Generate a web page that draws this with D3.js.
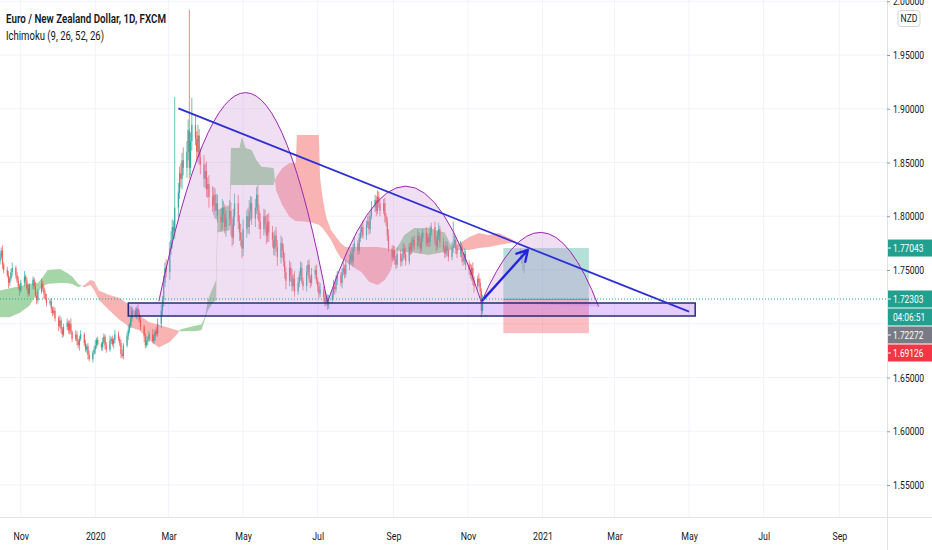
<!DOCTYPE html>
<html>
<head>
<meta charset="utf-8">
<script src="https://cdn.jsdelivr.net/npm/d3@7"></script>
<style>
html, body { margin: 0; padding: 0; background: #fff; overflow: hidden; }
svg { display: block; font-family: Roboto, "Noto Sans", sans-serif; }
</style>
</head>
<body>
<svg id="chart" width="932" height="550"></svg>
<script>
// ---- candles: daily closes from 2019-10-15 (weekdays), open = previous close
var firstDay = "2019-10-15";
var firstOpen = 1.758;
var closes = [
  1.762, 1.768, 1.755, 1.750, 1.745, 1.738, 1.742, 1.748, 1.752, 1.745,
  1.740, 1.735, 1.731, 1.738, 1.744, 1.740, 1.733, 1.728, 1.736, 1.741,
  1.735, 1.726, 1.722, 1.730, 1.737, 1.733, 1.728, 1.724, 1.719, 1.721,
  1.714, 1.710, 1.712, 1.705, 1.698, 1.703, 1.695, 1.690, 1.697, 1.701,
  1.694, 1.700, 1.692, 1.686, 1.690, 1.684, 1.680, 1.686, 1.690, 1.682,
  1.676, 1.679, 1.671, 1.667, 1.673, 1.676, 1.680, 1.685, 1.681, 1.678,
  1.683, 1.688, 1.680, 1.676, 1.684, 1.686, 1.681, 1.685, 1.690, 1.686,
  1.682, 1.672, 1.670, 1.680, 1.689, 1.694, 1.698, 1.705, 1.712, 1.708,
  1.714, 1.710, 1.703, 1.697, 1.688, 1.680, 1.684, 1.686, 1.690, 1.684,
  1.688, 1.693, 1.691, 1.700, 1.712, 1.722, 1.738, 1.752, 1.748, 1.770,
  1.778, 1.790, 1.786, 1.808, 1.822, 1.840, 1.835, 1.852, 1.845, 1.860,
  1.880, 1.845, 1.870, 1.885, 1.872, 1.860, 1.875, 1.855, 1.848, 1.835,
  1.842, 1.825, 1.830, 1.818, 1.810, 1.820, 1.805, 1.812, 1.800, 1.795,
  1.808, 1.802, 1.790, 1.798, 1.805, 1.792, 1.780, 1.800, 1.812, 1.795,
  1.785, 1.778, 1.770, 1.788, 1.800, 1.790, 1.805, 1.812, 1.798, 1.808,
  1.820, 1.805, 1.795, 1.788, 1.800, 1.792, 1.782, 1.795, 1.785, 1.778,
  1.770, 1.782, 1.772, 1.762, 1.775, 1.768, 1.758, 1.748, 1.740, 1.752,
  1.745, 1.735, 1.742, 1.730, 1.738, 1.745, 1.752, 1.740, 1.735, 1.748,
  1.755, 1.742, 1.738, 1.746, 1.750, 1.740, 1.735, 1.728, 1.732, 1.725,
  1.720, 1.724, 1.718, 1.722, 1.728, 1.735, 1.732, 1.740, 1.745, 1.738,
  1.748, 1.752, 1.746, 1.755, 1.760, 1.765, 1.758, 1.770, 1.775, 1.768,
  1.780, 1.785, 1.790, 1.782, 1.792, 1.795, 1.788, 1.800, 1.808, 1.815,
  1.805, 1.818, 1.812, 1.805, 1.812, 1.800, 1.795, 1.782, 1.770, 1.762,
  1.768, 1.760, 1.755, 1.765, 1.758, 1.762, 1.770, 1.765, 1.758, 1.772,
  1.768, 1.775, 1.778, 1.772, 1.782, 1.776, 1.770, 1.780, 1.785, 1.775,
  1.780, 1.776, 1.785, 1.790, 1.778, 1.772, 1.782, 1.788, 1.776, 1.770,
  1.765, 1.772, 1.768, 1.762, 1.770, 1.774, 1.778, 1.770, 1.765, 1.772,
  1.762, 1.758, 1.765, 1.755, 1.750, 1.745, 1.752, 1.740, 1.735, 1.742,
  1.738, 1.730, 1.712, 1.72303
];
// wick lengths above / below the body, in 0.001
var wickUp = [
  4,3,5,2,3,4,2,3,5,2, 3,4,2,3,5,2,3,4,2,3, 2,4,3,2,5,3,2,3,4,2, 3,2,4,3,2,5,3,2,3,4,
  2,3,5,2,4,3,2,3,4,2, 3,2,3,4,2,3,5,2,3,2, 4,3,2,3,5,2,3,2,4,3, 2,3,4,2,3,5,3,2,4,3,
  2,4,3,5,2,3,4,2,3,5, 3,2,4,5,6,4,7,5,8,6, 8,7,6,103,9,6,9,7,12,10, 10,112,8,25,9,7,10,6,8,9,
  7,9,6,8,10,7,6,9,8,7, 8,6,9,7,10,8,6,7,9,8, 6,8,7,9,6,8,10,7,6,8, 7,9,6,8,7,6,9,7,8,6,
  7,5,8,6,7,5,6,8,5,7, 5,6,4,7,5,4,6,5,3,6, 4,5,3,6,4,5,3,4,6,3, 5,4,3,5,4,6,3,5,4,3,
  4,6,3,5,4,3,6,4,5,3, 4,5,3,6,4,5,7,4,6,5, 4,6,5,3,4,5,3,4,6,3, 5,4,3,6,4,3,5,4,6,3,
  4,5,3,4,6,3,5,4,3,5, 4,3,6,4,5,3,4,6,3,4, 3,5,4,3,6,21,5,3,4,5, 3,4,5,3,4,6,3,5,4,3,
  5,4,3,4
];
var wickDn = [
  3,2,4,3,2,5,3,2,4,3, 2,3,5,2,3,4,2,3,2,4, 3,2,4,3,2,3,5,2,3,2, 4,3,2,3,5,2,4,3,2,3,
  3,4,2,3,2,4,3,5,2,3, 2,3,4,2,3,2,4,3,2,3, 3,2,4,3,2,3,2,4,3,2, 3,4,2,3,2,4,3,2,3,2,
  4,3,2,3,5,3,2,4,3,2, 3,4,2,3,4,5,6,4,5,7, 6,8,5,7,9,6,8,10,7,9, 8,10,7,9,6,8,10,7,9,8,
  9,7,8,10,6,9,7,8,6,9, 7,8,6,9,7,10,8,6,9,7, 8,6,9,7,8,6,7,9,6,8, 6,8,7,9,6,7,8,6,9,7,
  6,7,5,8,6,7,5,6,8,5, 6,5,4,5,3,4,5,3,4,5, 3,4,5,3,4,3,5,4,3,5, 4,3,5,4,3,4,5,3,4,3,
  5,3,4,3,5,4,3,5,3,4, 3,4,5,3,4,3,5,4,3,4, 5,3,4,5,3,6,4,5,3,4, 3,5,4,3,5,4,3,5,4,3,
  4,3,5,4,3,4,5,3,4,3, 3,5,4,3,4,5,3,4,5,3, 4,3,5,4,3,4,3,5,4,3, 5,4,3,5,4,3,5,4,6,5,
  4,6,6,3
];

// ---- Ichimoku cloud (leading spans, already shifted forward)
var cloudDates = [
  "2019-10-15","2019-10-23","2019-10-31","2019-11-08","2019-11-15","2019-11-19","2019-11-23",
  "2019-12-03","2019-12-08","2019-12-13","2019-12-18","2019-12-23","2019-12-28","2019-12-31",
  "2020-01-04","2020-01-12","2020-01-21","2020-01-29","2020-02-06","2020-02-14","2020-02-22",
  "2020-03-02","2020-03-08","2020-03-11","2020-03-22","2020-03-28","2020-03-31","2020-04-02",
  "2020-04-06","2020-04-09","2020-04-10","2020-04-20","2020-04-21","2020-04-28","2020-04-30",
  "2020-05-03","2020-05-08","2020-05-12","2020-05-16","2020-05-26","2020-05-28","2020-06-02",
  "2020-06-08","2020-06-13","2020-06-14","2020-06-24","2020-07-02","2020-07-03","2020-07-05",
  "2020-07-08","2020-07-12","2020-07-16","2020-07-20","2020-07-24","2020-07-31","2020-08-06",
  "2020-08-12","2020-08-19","2020-08-25","2020-08-30","2020-09-03","2020-09-10","2020-09-18",
  "2020-09-30","2020-10-13","2020-10-18","2020-10-23","2020-11-02","2020-11-10","2020-11-18",
  "2020-11-26","2020-12-05","2020-12-10"
];
var spanA = [
  1.731, 1.733, 1.735, 1.737, 1.738, 1.7435, 1.750,
  1.751, 1.748, 1.744, 1.737, 1.734, 1.736, 1.7314,
  1.722, 1.713, 1.7035, 1.697, 1.694, 1.685, 1.678,
  1.683, 1.6905, 1.695, 1.698, 1.6995, 1.707, 1.722,
  1.733, 1.741, 1.806, 1.8105, 1.8635, 1.8635, 1.874,
  1.8635, 1.8616, 1.852, 1.846, 1.845, 1.824, 1.8105,
  1.7993, 1.7956, 1.7956, 1.7947, 1.792, 1.791, 1.789,
  1.7844, 1.778, 1.7686, 1.761, 1.7574, 1.752, 1.748,
  1.739, 1.736, 1.7407, 1.750, 1.7686, 1.7826, 1.789,
  1.789, 1.785, 1.7733, 1.7686, 1.7686, 1.7705, 1.7714,
  1.7733, 1.7751, 1.776
];
var spanB = [
  1.706, 1.706, 1.710, 1.7165, 1.7295, 1.735, 1.737,
  1.738, 1.738, 1.737, 1.734, 1.736, 1.7407, 1.7398,
  1.731, 1.727, 1.724, 1.7174, 1.708, 1.7016, 1.699,
  1.696, 1.694, 1.693, 1.693, 1.694, 1.705, 1.712,
  1.719, 1.722, 1.785, 1.787, 1.829, 1.829, 1.829,
  1.829, 1.829, 1.829, 1.829, 1.829, 1.8365, 1.845,
  1.8495, 1.8495, 1.8756, 1.8756, 1.8756, 1.8365, 1.818,
  1.7993, 1.787, 1.781, 1.775, 1.7714, 1.7714, 1.7714,
  1.7714, 1.7714, 1.7705, 1.7695, 1.7686, 1.7667, 1.766,
  1.764, 1.7667, 1.7686, 1.7733, 1.7807, 1.7844, 1.7826,
  1.7844, 1.7798, 1.7769
];

// ---- faint projected bars
var ghostDates = ["2020-12-14", "2020-12-15", "2020-12-16", "2020-12-17"];
var ghostHigh = [1.770, 1.767, 1.762, 1.757];
var ghostLow = [1.761, 1.756, 1.750, 1.747];

// ---- drawings
var arcStart = ["2020-02-22", "2020-07-09", "2020-11-12"];
var arcPeak = ["2020-05-03", "2020-09-11", "2020-12-31"];
var arcEnd = ["2020-07-09", "2020-11-12", "2021-02-16"];
var arcStartPrice = [1.721, 1.720, 1.720];
var arcEndPrice = [1.720, 1.720, 1.716];
var arcTopPrice = [1.915, 1.828, 1.785];

var zoneDates = ["2020-01-28", "2021-05-06"];
var zonePrices = [1.7193, 1.7072];
var trendDates = ["2020-03-09", "2021-05-01"];
var trendPrices = [1.9004, 1.7112];
var arrowDates = ["2020-11-13", "2020-12-20"];
var arrowPrices = [1.7220, 1.7686];
var posDates = ["2020-11-30", "2021-02-08"];
var posTarget = 1.77043, posEntry = 1.72272, posStop = 1.69126;
var lastPrice = 1.72303;

// ---- axes
var priceTicks = [1.55, 1.60, 1.65, 1.70, 1.75, 1.80, 1.85, 1.90, 1.95, 2.00];
var hiddenTicks = [1.70]; // covered by tags
var tagText = ["1.77043", "1.72303", "04:06:51", "1.72272", "1.69126"];
var tagPrice = [1.77043, 1.72303, 1.72303, 1.72272, 1.69126];
var tagColor = ["#22a08f", "#22a08f", "#22a08f", "#787b86", "#f23645"];

var W = 932, H = 550, plotW = 887, plotH = 517;
var parse = d3.utcParse("%Y-%m-%d");

var x = d3.scaleUtc().domain([parse("2019-10-15"), parse("2021-10-10")]).range([0, plotW]);
var y = d3.scaleLinear().domain([1.55, 1.95]).range([485, 55]);

var svg = d3.select("#chart");
svg.append("rect").attr("width", W).attr("height", H).attr("fill", "#fff");

var defs = svg.append("defs");
defs.append("clipPath").attr("id", "plot")
  .append("rect").attr("width", plotW).attr("height", plotH);

function squeeze(sel, k) {
  sel.each(function() {
    var w = this.getComputedTextLength();
    this.setAttribute("textLength", w * k);
    this.setAttribute("lengthAdjust", "spacingAndGlyphs");
  });
}

// grid
var monthTicks = d3.utcMonth.every(2).range(parse("2019-10-15"), parse("2021-10-10"));
var grid = svg.append("g");
grid.selectAll(".gv").data(monthTicks).join("line")
  .attr("x1", function(d) { return x(d); }).attr("x2", function(d) { return x(d); })
  .attr("y1", 0).attr("y2", plotH)
  .attr("stroke", "#f0f3fa").attr("stroke-width", 1);
grid.selectAll(".gh").data(priceTicks).join("line")
  .attr("x1", 0).attr("x2", plotW)
  .attr("y1", function(d) { return y(d); }).attr("y2", function(d) { return y(d); })
  .attr("stroke", "#f0f3fa").attr("stroke-width", 1);

var plot = svg.append("g").attr("clip-path", "url(#plot)");

// cloud: green where span A is above span B, red otherwise
var cloud = cloudDates.map(function(d, i) { return { t: parse(d), a: spanA[i], b: spanB[i] }; });
var band = d3.area().x(function(d) { return x(d.t); })
  .y0(function(d) { return y(d.a); }).y1(function(d) { return y(d.b); });
var aboveB = d3.area().x(function(d) { return x(d.t); })
  .y0(-10).y1(function(d) { return y(d.b); });
var belowB = d3.area().x(function(d) { return x(d.t); })
  .y0(plotH + 10).y1(function(d) { return y(d.b); });
defs.append("clipPath").attr("id", "cg").append("path").attr("d", aboveB(cloud));
defs.append("clipPath").attr("id", "cr").append("path").attr("d", belowB(cloud));
plot.append("path").attr("d", band(cloud)).attr("fill", "#a5d6a7").attr("clip-path", "url(#cg)");
plot.append("path").attr("d", band(cloud)).attr("fill", "#f9b3b3").attr("clip-path", "url(#cr)");

// candles
var bars = [];
var day = parse(firstDay);
for (var i = 0; i < closes.length; i++) {
  while (day.getUTCDay() === 0 || day.getUTCDay() === 6) day = d3.utcDay.offset(day, 1);
  var o = i === 0 ? firstOpen : closes[i - 1], c = closes[i];
  bars.push({ t: day, o: o, c: c,
    h: Math.max(o, c) + wickUp[i] / 1000, l: Math.min(o, c) - wickDn[i] / 1000 });
  day = d3.utcDay.offset(day, 1);
}
var cg = plot.append("g");
cg.selectAll("line").data(bars).join("line")
  .attr("x1", function(d) { return x(d.t); }).attr("x2", function(d) { return x(d.t); })
  .attr("y1", function(d) { return y(d.h); }).attr("y2", function(d) { return y(d.l); })
  .attr("stroke", function(d) { return d.c >= d.o ? "#26a69a" : "#ef5350"; })
  .attr("stroke-width", 0.8).attr("opacity", 0.85);
cg.selectAll("rect").data(bars).join("rect")
  .attr("x", function(d) { return x(d.t) - 0.6; }).attr("width", 1.2)
  .attr("y", function(d) { return y(Math.max(d.o, d.c)); })
  .attr("height", function(d) { return Math.max(1, Math.abs(y(d.o) - y(d.c))); })
  .attr("fill", function(d) { return d.c >= d.o ? "#26a69a" : "#ef5350"; })
  .attr("opacity", 0.85);

// ghost bars
plot.append("g").selectAll("line").data(ghostDates).join("line")
  .attr("x1", function(d) { return x(parse(d)); }).attr("x2", function(d) { return x(parse(d)); })
  .attr("y1", function(d, i) { return y(ghostHigh[i]); })
  .attr("y2", function(d, i) { return y(ghostLow[i]); })
  .attr("stroke", "#9598a1").attr("stroke-width", 1).attr("opacity", 0.6);

// long position box
var px0 = x(parse(posDates[0])), px1 = x(parse(posDates[1]));
plot.append("rect").attr("x", px0).attr("width", px1 - px0)
  .attr("y", y(posTarget)).attr("height", y(posEntry) - y(posTarget))
  .attr("fill", "rgba(8,153,129,0.3)");
plot.append("rect").attr("x", px0).attr("width", px1 - px0)
  .attr("y", y(posEntry)).attr("height", y(posStop) - y(posEntry))
  .attr("fill", "rgba(242,54,69,0.32)");
plot.append("line").attr("x1", px0).attr("x2", px1)
  .attr("y1", y(posEntry)).attr("y2", y(posEntry))
  .attr("stroke", "#26a69a").attr("stroke-width", 1);

// arcs
arcStart.forEach(function(s, i) {
  var x0 = x(parse(s)), y0 = y(arcStartPrice[i]);
  var x2 = x(parse(arcEnd[i])), y2 = y(arcEndPrice[i]);
  var xp = x(parse(arcPeak[i])), yp = y(arcTopPrice[i]);
  var xc = 2 * xp - (x0 + x2) / 2, yc = 2 * yp - (y0 + y2) / 2;
  var p = d3.path();
  p.moveTo(x0, y0);
  p.quadraticCurveTo(xc, yc, x2, y2);
  plot.append("path").attr("d", p.toString() + "Z")
    .attr("fill", "rgba(206,147,216,0.3)").attr("stroke", "none");
  plot.append("path").attr("d", p.toString())
    .attr("fill", "none").attr("stroke", "#9c27b0").attr("stroke-width", 1);
});

// support zone
var zx0 = x(parse(zoneDates[0])), zx1 = x(parse(zoneDates[1]));
plot.append("rect").attr("x", zx0).attr("width", zx1 - zx0)
  .attr("y", y(zonePrices[0])).attr("height", y(zonePrices[1]) - y(zonePrices[0]))
  .attr("fill", "rgba(160,80,255,0.28)").attr("stroke", "#262b7a").attr("stroke-width", 1.5);

// trend line
plot.append("line")
  .attr("x1", x(parse(trendDates[0]))).attr("y1", y(trendPrices[0]))
  .attr("x2", x(parse(trendDates[1]))).attr("y2", y(trendPrices[1]))
  .attr("stroke", "#2e2ed6").attr("stroke-width", 1.8);

// arrow
var ax0 = x(parse(arrowDates[0])), ay0 = y(arrowPrices[0]);
var ax1 = x(parse(arrowDates[1])), ay1 = y(arrowPrices[1]);
var ang = Math.atan2(ay1 - ay0, ax1 - ax0);
var hl = 12, spread = Math.PI / 6;
var ap = d3.path();
ap.moveTo(ax0, ay0); ap.lineTo(ax1, ay1);
ap.moveTo(ax1 - hl * Math.cos(ang - spread), ay1 - hl * Math.sin(ang - spread));
ap.lineTo(ax1, ay1);
ap.lineTo(ax1 - hl * Math.cos(ang + spread), ay1 - hl * Math.sin(ang + spread));
plot.append("path").attr("d", ap.toString()).attr("fill", "none")
  .attr("stroke", "#2424e0").attr("stroke-width", 2.4)
  .attr("stroke-linecap", "round").attr("stroke-linejoin", "round");

// last price line
plot.append("line").attr("x1", 0).attr("x2", plotW)
  .attr("y1", y(lastPrice)).attr("y2", y(lastPrice))
  .attr("stroke", "#26a69a").attr("stroke-width", 1).attr("stroke-dasharray", "1,2");

// borders
svg.append("line").attr("x1", 0).attr("x2", W).attr("y1", plotH + 0.5).attr("y2", plotH + 0.5)
  .attr("stroke", "#e0e3eb");
svg.append("line").attr("x1", plotW + 0.5).attr("x2", plotW + 0.5).attr("y1", 0).attr("y2", H)
  .attr("stroke", "#e0e3eb");

// time axis
var xAxis = d3.axisBottom(x).tickValues(monthTicks).tickSize(0).tickPadding(15)
  .tickFormat(function(d) { return d.getUTCMonth() === 0 ? d3.utcFormat("%Y")(d) : d3.utcFormat("%b")(d); });
var gx = svg.append("g").attr("transform", "translate(0," + plotH + ")").call(xAxis);
gx.select(".domain").remove();
gx.selectAll("text").attr("font-size", 11).attr("fill", "#131722").attr("font-family", "Roboto");
squeeze(gx.selectAll("text"), 0.8);

// price axis
var yAxis = d3.axisRight(y).tickValues(priceTicks.filter(function(v) { return hiddenTicks.indexOf(v) < 0; }))
  .tickSize(3).tickPadding(3).tickFormat(d3.format(".5f"));
var gy = svg.append("g").attr("transform", "translate(" + plotW + ",0)").call(yAxis);
gy.select(".domain").remove();
gy.selectAll("line").attr("stroke", "#9598a1");
gy.selectAll("text").attr("font-size", 11).attr("fill", "#131722").attr("font-family", "Roboto");
squeeze(gy.selectAll("text"), 0.78);

// price tags, stacked when they collide
var tagH = 17, prevY = -100;
tagText.forEach(function(t, i) {
  var cy = Math.max(y(tagPrice[i]), prevY + tagH + 1);
  prevY = cy;
  var isTime = t.indexOf(":") >= 0;
  var g = svg.append("g");
  g.append("rect").attr("x", plotW + 1).attr("y", cy - tagH / 2).attr("width", W - plotW - 1).attr("height", tagH)
    .attr("fill", tagColor[i]);
  if (!isTime) {
    g.append("line").attr("x1", plotW + 1).attr("x2", plotW + 4).attr("y1", cy).attr("y2", cy)
      .attr("stroke", "#fff");
  }
  var tx = g.append("text").attr("x", isTime ? 909 : plotW + 6).attr("y", cy).attr("dy", "0.35em")
    .attr("text-anchor", isTime ? "middle" : "start")
    .attr("font-size", 11).attr("fill", "#fff").attr("font-family", "Roboto").text(t);
  squeeze(tx, 0.76);
});

// currency box
svg.append("rect").attr("x", 898).attr("y", 10.5).attr("width", 22).attr("height", 16).attr("rx", 3)
  .attr("fill", "#fff").attr("stroke", "#d1d4dc");
var cur = svg.append("text").attr("x", 909).attr("y", 18.5).attr("dy", "0.35em").attr("text-anchor", "middle")
  .attr("font-size", 11).attr("fill", "#131722").text("NZD");
squeeze(cur, 0.78);

// legend
svg.append("text").attr("x", 6).attr("y", 23).attr("font-size", 13).attr("font-weight", 600)
  .attr("fill", "#131722").attr("textLength", 160).attr("lengthAdjust", "spacingAndGlyphs")
  .text("Euro / New Zealand Dollar, 1D, FXCM");
svg.append("text").attr("x", 6).attr("y", 40).attr("font-size", 12.5)
  .attr("fill", "#131722").attr("textLength", 98).attr("lengthAdjust", "spacingAndGlyphs")
  .text("Ichimoku (9, 26, 52, 26)");
</script>
</body>
</html>
